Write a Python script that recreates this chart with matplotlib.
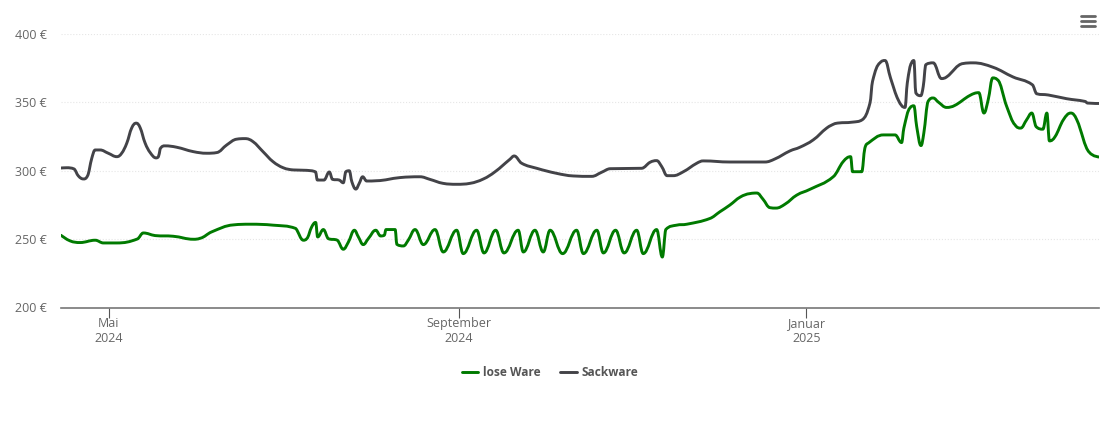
import numpy as np
import pandas as pd
import matplotlib
matplotlib.use("Agg")
import matplotlib.pyplot as plt
from matplotlib.lines import Line2D
from matplotlib.path import Path
from matplotlib.patches import PathPatch

plt.rcParams['font.family'] = ['Open Sans', 'DejaVu Sans']

# days since 2024-05-01
lose_days = [-16.7,-13.5,-10,-4.7,-1.8,2.9,10.1,12.2,16.3,22.7,29.8,32.1,36.2,43.8,49.7,57.8,65.7,68.4,69.6,71.3,
    72.7,73.4,75.4,77.1,80.3,82.4,84.2,86.3,87.7,89.4,91.2,93.8,95.5,96.8,97.4,100.6,101.2,103.5,105.2,107.6,
    110.5,114.6,117.5,122.2,124.5,129.2,131.8,135.9,138.8,143.8,145.6,149.7,152.6,155,159.4,164.3,166.7,171.4,173.7,178,
    181,185.4,187.7,192.4,194.4,195.6,199.4,203,211.1,214.6,218.1,221.7,225.2,227.6,229.7,232.2,234.3,237.5,241.6,246.2,
    254.4,257.9,260.5,261.2,264.4,265.5,266.7,272,276.1,278.4,279.2,281.3,282.7,283.7,285.2,286.2,287.7,289.5,291.3,294.2,
    297.1,302.4,305.5,307.3,308.8,310.4,312,315.3,318.2,320.2,322.3,324.1,325.6,328,329.4,330.3,332.3,335.2,337.8,339.9,
    344.3,347.7]
lose_prices = [252.8,248.7,247.5,249.2,247.2,247.2,250.1,254.5,252.6,252.1,249.9,250.6,255.3,260.4,260.9,260.2,257.8,249.2,250.4,258.9,
    262.2,251.6,257,250.4,249.2,242.6,247.9,256.5,251.6,246,250.4,256.5,252.3,252.8,257,257,246.2,245,249.2,257,
    246,257,240.6,256.5,239.4,256.5,239.9,256.5,239.9,256.5,240.6,256.5,240.6,256.5,239.4,256.5,239.4,256.5,239.9,256.5,
    239.9,256.5,239.4,257,236.9,257,260.2,260.9,265.1,270,274.9,280.7,283.3,283.7,279.3,273,272.7,275.6,282.2,286.4,
    295.6,306.7,310.3,299.3,299.3,316.5,320.2,326.2,326.2,320.6,331.2,345.8,347.5,332.3,318.4,327.5,350.7,353.2,350.2,346.3,
    347.8,355.1,357.1,342.2,351.9,367.9,366.6,347,333.6,331.2,337.3,342.2,332.3,330.4,342.2,321.8,325,337.3,342.2,337.3,
    313.5,310.1]

sack_days = [-16.7,-14.7,-12.1,-10.6,-8.8,-7.4,-5.9,-4.7,-3,-0.1,2.9,4.6,6.4,8.1,9.7,11.1,12.8,14.6,16.7,17.5,
    18.1,19.8,23.9,29.7,34.5,38,41.5,45,47.9,50.7,54.2,57.7,61.3,64.8,69.6,72.7,73.3,75.6,77.5,78.6,
    81,82.4,83.3,84.5,85.4,86.8,88,89.2,90.6,94.1,102.3,109.3,112.8,117.4,122.2,126.9,131.6,135.7,140.9,142.4,
    145,150.3,157.3,163.1,169.6,173.1,176,187.2,190.1,192.4,194.2,196.1,198.2,201.8,206.5,208.8,218.1,230.4,233.9,239.2,
    242.7,247.4,252.1,255,261.4,264.6,267.3,268.2,270.8,272.6,274.5,277.2,279.6,280.4,281.9,282.7,283.4,285.1,286,286.9,
    289.5,292.4,294.2,300,303.5,310.6,317.5,324.3,325.8,329.9,336.3,342.8,343.6,347.7]
sack_prices = [302,302.2,301.3,296.2,294,296.2,309.1,315.2,315.2,312.8,310.3,312.8,320.2,331.2,334.8,331.4,320.4,313.3,309.4,310.3,
    316,318.2,317.2,314,312.8,313.3,318.9,323.1,323.5,321.3,314,306.7,302.2,300.6,300.3,299.1,293.2,293.2,299.1,293.7,
    293.2,291.2,299.3,300,292,286.6,290.8,295.6,292.5,292.7,295,295.6,293.7,290.8,290.1,290.8,294,299.3,308.4,310.8,
    305.5,301.8,298.1,296.2,295.9,298.9,301.5,301.8,306.2,307.4,303,296.4,296.4,299.3,305.5,307.2,306.4,306.4,308.6,314.5,
    317.2,322.6,331.2,334.5,335.6,337.3,349.5,365.4,378.9,380.6,367.9,351.9,346.3,364.2,378.9,380.6,356.9,354.9,361.7,377.6,
    378.9,367.4,368.6,378.4,378.9,375.6,368.6,362.9,356.3,355.4,352.7,350.7,349.5,349.2]

y_ticks = [200, 250, 300, 350, 400]
y_labels = ["200 €", "250 €", "300 €", "350 €", "400 €"]
x_ticks = [0, 123, 245]
x_labels = ["Mai\n2024", "September\n2024", "Januar\n2025"]

GREEN = "#007a00"
GREY = "#434348"
TEXT = "#666666"


def spline_patch(x, y, color):
    # same kind of curve a spline series gets: control points between neighbours,
    # clamped so the curve does not overshoot its neighbours
    x = np.asarray(x, dtype=float)
    y = np.asarray(y, dtype=float)
    verts = [(x[0], y[0])]
    codes = [Path.MOVETO]
    right = (x[0], y[0])
    for i in range(1, len(x)):
        if i < len(x) - 1:
            lx = (1.5 * x[i] + x[i - 1]) / 2.5
            ly = (1.5 * y[i] + y[i - 1]) / 2.5
            rx = (1.5 * x[i] + x[i + 1]) / 2.5
            ry = (1.5 * y[i] + y[i + 1]) / 2.5
            shift = 0
            if rx != lx:
                shift = (ry - ly) * (rx - x[i]) / (rx - lx) + y[i] - ry
            ly += shift
            ry += shift
            if ry > y[i] and ry > y[i + 1]:
                ry = max(y[i], y[i + 1])
                ly = 2 * y[i] - ry
            elif ry < y[i] and ry < y[i + 1]:
                ry = min(y[i], y[i + 1])
                ly = 2 * y[i] - ry
            if ly > y[i] and ly > y[i - 1]:
                ly = max(y[i], y[i - 1])
                ry = 2 * y[i] - ly
            elif ly < y[i] and ly < y[i - 1]:
                ly = min(y[i], y[i - 1])
                ry = 2 * y[i] - ly
            left = (lx, ly)
            next_right = (rx, ry)
        else:
            left = (x[i], y[i])
            next_right = left
        verts += [right, left, (x[i], y[i])]
        codes += [Path.CURVE4, Path.CURVE4, Path.CURVE4]
        right = next_right
    return PathPatch(Path(verts, codes), fill=False, edgecolor=color, linewidth=2.1,
                     capstyle="round", joinstyle="round", zorder=3, clip_on=True)


fig = plt.figure(figsize=(11.10, 4.22), dpi=100)
ax = fig.add_axes([61 / 1110, 1 - 307.5 / 422, (1099 - 61) / 1110, (307.5 - 34) / 422])

ax.add_patch(spline_patch(lose_days, lose_prices, GREEN))
ax.add_patch(spline_patch(sack_days, sack_prices, GREY))

ax.set_xlim(-16.7, 347.7)
ax.set_ylim(200, 400)
ax.set_yticks(y_ticks)
ax.set_yticklabels(y_labels)
ax.set_xticks(x_ticks)
ax.set_xticklabels(x_labels, linespacing=1.2)
ax.tick_params(axis="y", length=0, pad=10, labelsize=9, labelcolor=TEXT)
ax.tick_params(axis="x", length=7, width=0.8, color="#555555", pad=0, labelsize=9, labelcolor=TEXT)
ax.grid(axis="y", color="#e6e6e6", linestyle=":", linewidth=0.8)
ax.set_axisbelow(True)
for side in ["top", "right", "left"]:
    ax.spines[side].set_visible(False)
ax.spines["bottom"].set_color("#777777")
ax.spines["bottom"].set_linewidth(1.2)

handles = [Line2D([], [], color=GREEN, linewidth=2.1, solid_capstyle="round"),
           Line2D([], [], color=GREY, linewidth=2.1, solid_capstyle="round")]
fig.legend(handles, ["lose Ware", "Sackware"], loc="center", bbox_to_anchor=(550 / 1110, 1 - 372.5 / 422),
           ncol=2, frameon=False, handlelength=1.4, handletextpad=0.4, columnspacing=1.6,
           prop={"size": 8.6, "weight": "bold"}, labelcolor="#555555")

# menu button top right
for py in [16, 21, 26]:
    fig.add_artist(Line2D([1081 / 1110, 1095 / 1110], [1 - py / 422, 1 - py / 422], color=TEXT,
                          linewidth=2.0, solid_capstyle="round"))

fig.savefig("out.png", dpi=100)
